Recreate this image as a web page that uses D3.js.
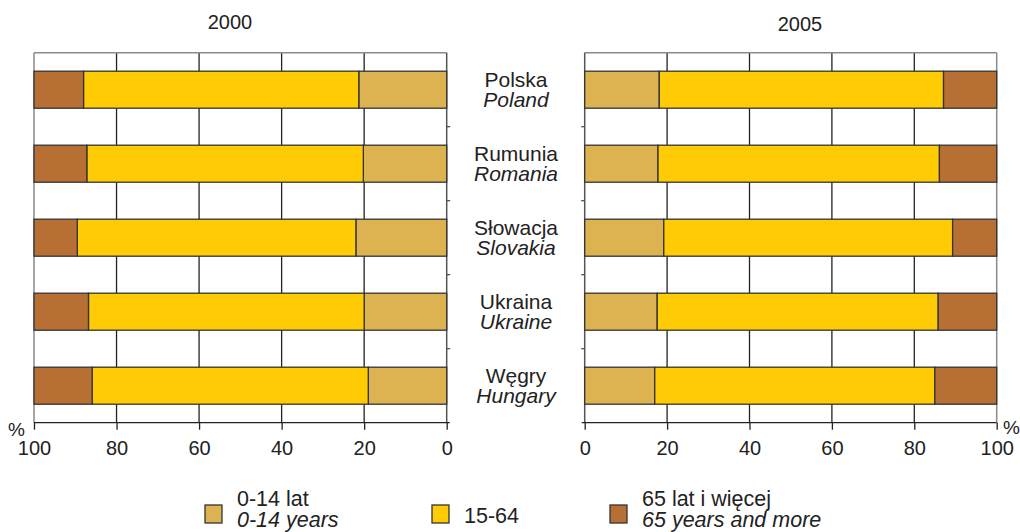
<!DOCTYPE html>
<html>
<head>
<meta charset="utf-8">
<script src="https://cdn.jsdelivr.net/npm/d3@7"></script>
<style>
  body { margin: 0; background: #fff; }
  svg { font-family: "Liberation Sans", Arial, sans-serif; }
</style>
</head>
<body>
<svg id="chart" width="1020" height="532"></svg>
<script>
// countries (Polish / English)
const countriesPl = ["Polska", "Rumunia", "Słowacja", "Ukraina", "Węgry"];
const countriesEn = ["Poland", "Romania", "Slovakia", "Ukraine", "Hungary"];

// age structure, % of population
const young2000 = [21.3, 20.2, 22.0, 20.0, 19.0];
const working2000 = [66.7, 67.0, 67.5, 66.8, 66.9];
const old2000 = [12.0, 12.8, 10.5, 13.2, 14.1];

const young2005 = [18.1, 17.8, 19.2, 17.6, 17.0];
const working2005 = [69.0, 68.3, 70.1, 68.2, 68.0];
const old2005 = [12.9, 13.9, 10.7, 14.2, 15.0];

const years = ["2000", "2005"];
const tickValues = [0, 20, 40, 60, 80, 100];
const groupKeys = ["young", "working", "old"];
const legendPl = ["0-14 lat", "15-64", "65 lat i więcej"];
const legendEn = ["0-14 years", "", "65 years and more"];

const colors = { young: "#DDB352", working: "#FECB05", old: "#B86F34" };

let svg = d3.select("#chart");
let plotTop = 52.7;
let plotBottom = 422.7;

let yScale = d3
  .scaleBand()
  .domain(countriesPl)
  .range([plotTop, plotBottom])
  .paddingInner(0.5)
  .paddingOuter(0.25);

function rows(young, working, old) {
  return countriesPl.map((c, i) => ({
    country: c,
    young: young[i],
    working: working[i],
    old: old[i],
  }));
}

drawPanel(rows(young2000, working2000, old2000), {
  xScale: d3.scaleLinear().domain([100, 0]).range([34, 446.7]),
  title: years[0],
  titleX: 230,
  titleY: 29,
  tickSide: 1,
});

drawPanel(rows(young2005, working2005, old2005), {
  xScale: d3.scaleLinear().domain([0, 100]).range([584.7, 996.7]),
  title: years[1],
  titleX: 800,
  titleY: 31,
  tickSide: -1,
});

drawLabels();
drawLegend();

function drawPanel(data, { xScale, title, titleX, titleY, tickSide }) {
  let g = svg.append("g");
  let x0 = xScale(0);
  let x100 = xScale(100);

  // grid
  g.selectAll(".grid")
    .data([20, 40, 60, 80])
    .enter()
    .append("line")
    .attr("x1", (d) => xScale(d))
    .attr("x2", (d) => xScale(d))
    .attr("y1", plotTop)
    .attr("y2", plotBottom)
    .attr("stroke", "#222")
    .attr("stroke-width", 1.3);

  // frame
  g.append("line")
    .attr("x1", Math.min(x0, x100))
    .attr("x2", Math.max(x0, x100))
    .attr("y1", plotTop)
    .attr("y2", plotTop)
    .attr("stroke", "#8a8a8a")
    .attr("stroke-width", 1.5);
  [0, 100].forEach((v) => {
    g.append("line")
      .attr("x1", xScale(v))
      .attr("x2", xScale(v))
      .attr("y1", plotTop)
      .attr("y2", plotBottom)
      .attr("stroke", v == 0 ? "#555" : "#8a8a8a")
      .attr("stroke-width", 1.5);
  });

  // small ticks between countries, on the side facing the labels
  let step = yScale.step();
  g.selectAll(".sep")
    .data(d3.range(1, countriesPl.length))
    .enter()
    .append("line")
    .attr("x1", x0)
    .attr("x2", x0 + tickSide * 3.5)
    .attr("y1", (d) => plotTop + d * step)
    .attr("y2", (d) => plotTop + d * step)
    .attr("stroke", "#444")
    .attr("stroke-width", 1.2);

  // bars
  let series = d3.stack().keys(groupKeys)(data);
  g.selectAll(".series")
    .data(series)
    .enter()
    .append("g")
    .attr("fill", (s) => colors[s.key])
    .selectAll("rect")
    .data((s) => s)
    .enter()
    .append("rect")
    .attr("x", (d) => Math.min(xScale(d[0]), xScale(d[1])))
    .attr("width", (d) => Math.abs(xScale(d[1]) - xScale(d[0])))
    .attr("y", (d) => yScale(d.data.country))
    .attr("height", yScale.bandwidth())
    .attr("stroke", "#333")
    .attr("stroke-width", 1.3);

  // axis
  let axis = d3
    .axisBottom(xScale)
    .tickValues(tickValues)
    .tickSize(7)
    .tickPadding(11)
    .tickFormat(d3.format("d"));
  let ax = g
    .append("g")
    .attr("transform", `translate(0,${plotBottom})`)
    .call(axis);
  ax.select(".domain").remove();
  ax.selectAll(".tick line").attr("stroke", "#222").attr("stroke-width", 1.3);
  ax.selectAll(".tick text")
    .attr("fill", "#222")
    .style("font-size", "20px")
    .style("font-family", "'Liberation Sans', Arial, sans-serif");
  g.append("line")
    .attr("x1", Math.min(x0, x100) - (tickSide < 0 ? 3 : 0))
    .attr("x2", Math.max(x0, x100) + (tickSide > 0 ? 3 : 0))
    .attr("y1", plotBottom)
    .attr("y2", plotBottom)
    .attr("stroke", "#222")
    .attr("stroke-width", 1.3);

  // % sign
  g.append("text")
    .attr("x", tickSide > 0 ? 8 : 1003)
    .attr("y", tickSide > 0 ? 436 : 434)
    .attr("fill", "#222")
    .style("font-size", "19px")
    .text("%");

  // title
  g.append("text")
    .attr("x", titleX)
    .attr("y", titleY)
    .attr("text-anchor", "middle")
    .attr("fill", "#222")
    .style("font-size", "20px")
    .text(title);
}

function drawLabels() {
  let labels = svg
    .append("g")
    .selectAll("g")
    .data(countriesPl)
    .enter()
    .append("g")
    .attr(
      "transform",
      (d) => `translate(516,${yScale(d) + yScale.bandwidth() / 2})`
    );
  labels
    .append("text")
    .attr("y", -3)
    .attr("text-anchor", "middle")
    .attr("fill", "#222")
    .style("font-size", "21px")
    .text((d) => d);
  labels
    .append("text")
    .attr("y", 17)
    .attr("text-anchor", "middle")
    .attr("fill", "#222")
    .style("font-size", "21px")
    .style("font-style", "italic")
    .text((d, i) => countriesEn[i]);
}

function drawLegend() {
  let xs = [205, 432, 610];
  let items = svg
    .append("g")
    .selectAll("g")
    .data(groupKeys)
    .enter()
    .append("g")
    .attr("transform", (d, i) => `translate(${xs[i]},505)`);
  items
    .append("rect")
    .attr("width", 17)
    .attr("height", 18)
    .attr("fill", (d) => colors[d])
    .attr("stroke", "#333")
    .attr("stroke-width", 1.3);
  items
    .append("text")
    .attr("x", 32)
    .attr("y", (d, i) => (legendEn[i] ? 1 : 18))
    .attr("fill", "#222")
    .style("font-size", "21.5px")
    .text((d, i) => legendPl[i]);
  items
    .append("text")
    .attr("x", 32)
    .attr("y", 22)
    .attr("fill", "#222")
    .style("font-size", "21.5px")
    .style("font-style", "italic")
    .text((d, i) => legendEn[i]);
}
</script>
</body>
</html>
